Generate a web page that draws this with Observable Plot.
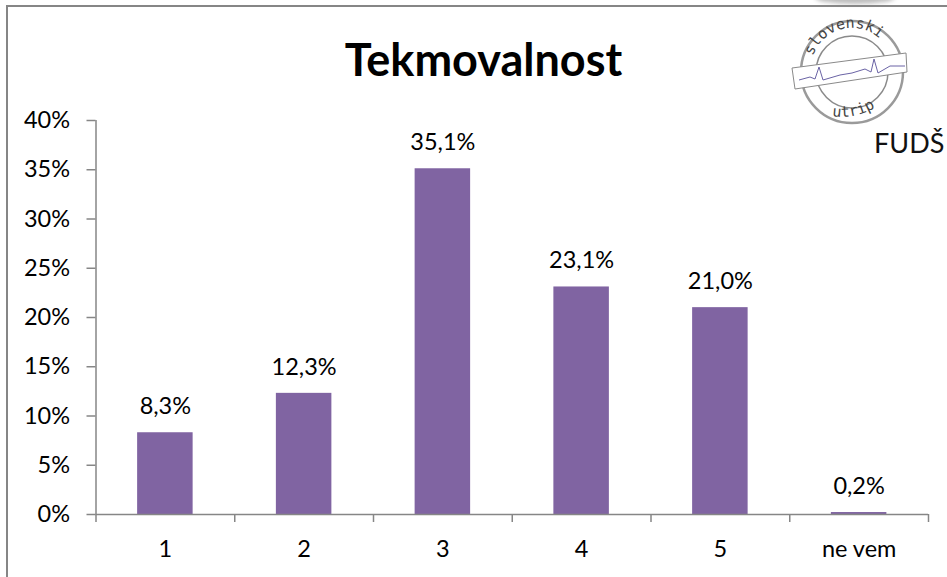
<!DOCTYPE html>
<html><head><meta charset="utf-8">
<script src="https://cdn.jsdelivr.net/npm/d3@7"></script>
<script src="https://cdn.jsdelivr.net/npm/@observablehq/plot@0.6"></script>
<style>
html,body{margin:0;padding:0;background:#fff;overflow:hidden}
#wrap{position:relative;width:947px;height:577px}
#frame{position:absolute;left:6px;top:5px;right:0;bottom:0;border:2px solid #868686;border-width:2px 0 0 2px}
#title{position:absolute;left:0;width:967px;top:31px;text-align:center;font:bold 45px/56px Lato,sans-serif;color:#000}
#logo{position:absolute;left:780px;top:0}
#shade{position:absolute;left:815px;top:-9px;width:80px;height:13px;border-radius:50%;background:#bdbdbd;filter:blur(2px)}
svg{background:transparent}
</style></head><body>
<div id="wrap"><div id="shade"></div><div id="frame"></div><div id="title">Tekmovalnost</div><div id="chart"></div>
<svg id="logo" width="167" height="170" viewBox="0 0 167 170">
<circle cx="72" cy="72" r="51" fill="#fff" stroke="#9a9a9a" stroke-width="2.5"/>
<circle cx="72" cy="72" r="36" fill="#fff" stroke="#8a8a8a" stroke-width="1.5"/>
<path id="arcTop" d="M33 56 A41 41 0 0 1 106 46" fill="none"/>
<text font-family="DejaVu Sans Mono" font-size="15" fill="#444"><textPath href="#arcTop">slovenski</textPath></text>
<path id="arcBot" d="M52 116 Q75 120 98 106" fill="none"/>
<text font-family="DejaVu Sans Mono" font-size="15" fill="#444"><textPath href="#arcBot">utrip</textPath></text>
<polygon points="12,68 126,53 127,72 15,89" fill="#fff" stroke="#8a8a8a"/>
<path d="M19 80 L30 77 L35 79 L39 67 L43 80 L60 75 L72 73 L85 69 L91 72 L94 59 L98 73 L110 66 L125 66" fill="none" stroke="#6a63a5" stroke-width="1"/>
<text x="94" y="153" font-family="Lato" font-size="27" fill="#111">FUDŠ</text>
</svg>
</div>
<script>
const categories = ["1","2","3","4","5","ne vem"];
const shares = [8.3,12.3,35.1,23.1,21.0,0.2];
const yTicks = [0,5,10,15,20,25,30,35,40];
const rows = categories.map((c,i)=>({c,v:shares[i]}));
const left=95.5,right=928,step=(right-left)/categories.length;
const gray="#868686";
const fs=23.5;
const pl = Plot.plot({
  width:947,height:577,marginLeft:left,marginRight:947-right,marginTop:120,marginBottom:63,
  style:{fontFamily:"Lato, sans-serif",fontSize:fs+"px",color:"#000",background:"transparent"},
  x:{domain:categories,paddingInner:0.6,paddingOuter:0.3,round:false,label:null},
  y:{domain:[0,40],label:null},
  marks:[
    Plot.barY(rows,{x:"c",y:"v",fill:"#8064A2"}),
    Plot.ruleX(categories.slice(0,1),{x:d=>d,y1:0,y2:40,dx:-step/2,stroke:gray,strokeWidth:1.5}),
    Plot.ruleY([0],{stroke:gray,strokeWidth:1.5}),
    Plot.ruleX(categories,{x:d=>d,y1:0,y2:0,insetBottom:-8,dx:-step/2,stroke:gray,strokeWidth:1.5}),
    Plot.ruleX(categories.slice(-1),{x:d=>d,y1:0,y2:0,insetBottom:-8,dx:step/2,stroke:gray,strokeWidth:1.5}),
    Plot.text(rows,{x:"c",y:"v",text:d=>d.v.toFixed(1).replace(".",",")+"%",dy:-26,fontSize:fs,fill:"#000"}),
    Plot.axisY({ticks:yTicks,tickFormat:d=>d+"%",tickSize:9,tickPadding:17,stroke:gray,strokeWidth:1.5,fontSize:fs,label:null}),
    Plot.axisX({tickSize:0,tickPadding:26,fontSize:fs,label:null})
  ]
});
document.getElementById("chart").appendChild(pl);
</script></body></html>
